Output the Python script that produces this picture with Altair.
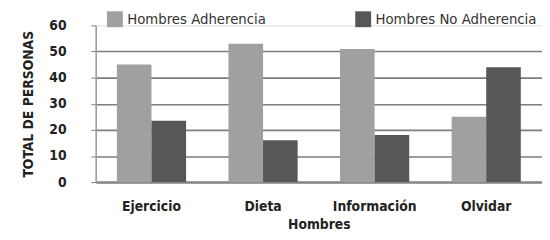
import altair as alt
import pandas as pd

categorias = ["Ejercicio", "Dieta", "Información", "Olvidar"]
adherencia = [45, 53, 51, 25]
no_adherencia = [23.5, 16, 18, 44]
series = ["Hombres Adherencia", "Hombres No Adherencia"]
y_ticks = [0, 10, 20, 30, 40, 50, 60]

rows = []
for c, a, n in zip(categorias, adherencia, no_adherencia):
    rows.append({"cat": c, "serie": series[0], "valor": a})
    rows.append({"cat": c, "serie": series[1], "valor": n})
df = pd.DataFrame(rows)

FONT = "DejaVu Sans Condensed"

chart = alt.Chart(df).mark_bar().encode(
    x=alt.X("cat:N", sort=categorias, title="Hombres",
            scale=alt.Scale(paddingInner=0.38, paddingOuter=0.19),
            axis=alt.Axis(labelAngle=0, ticks=False, domainColor="#8a8a8a", domainWidth=2.5,
                          labelFont=FONT, labelFontWeight="bold", labelFontSize=14, labelColor="#222",
                          labelPadding=18, titleFont=FONT, titleFontWeight="bold", titleFontSize=14,
                          titleColor="#222", titlePadding=4)),
    xOffset=alt.XOffset("serie:N", sort=series),
    y=alt.Y("valor:Q", title="TOTAL DE PERSONAS",
            scale=alt.Scale(domain=[0, 60], nice=False),
            axis=alt.Axis(values=y_ticks, grid=True, gridColor="#7d7d7d", gridWidth=1.6,
                          gridOpacity={"condition": {"test": "datum.value >= 60", "value": 0}, "value": 1},
                          tickColor="#7d7d7d", tickSize=5, domainColor="#9a9a9a", domainWidth=1.5,
                          labelFont=FONT, labelFontWeight="bold", labelFontSize=14, labelColor="#222",
                          labelPadding=25, titleFont=FONT, titleFontWeight="bold", titleFontSize=14,
                          titleColor="#222", titlePadding=14)),
    color=alt.Color("serie:N", sort=series,
                    scale=alt.Scale(domain=series, range=["#a0a0a2", "#57575a"]),
                    legend=alt.Legend(title=None, orient="none", legendX=11, legendY=-15,
                                      direction="horizontal", symbolType="square", symbolSize=260,
                                      symbolStrokeWidth=0, labelFont=FONT, labelLimit=400,
                                      labelFontSize=15, labelColor="#333", columnPadding=90,
                                      labelOffset=4)),
).properties(
    width=453, height=159,
    autosize=alt.AutoSizeParams(type="none"),
    padding={"left": 89, "top": 16, "right": 0, "bottom": 50},
).configure_view(stroke=None).configure(background="white")

chart.save("out.html", embed_options={"renderer": "svg", "actions": False})
